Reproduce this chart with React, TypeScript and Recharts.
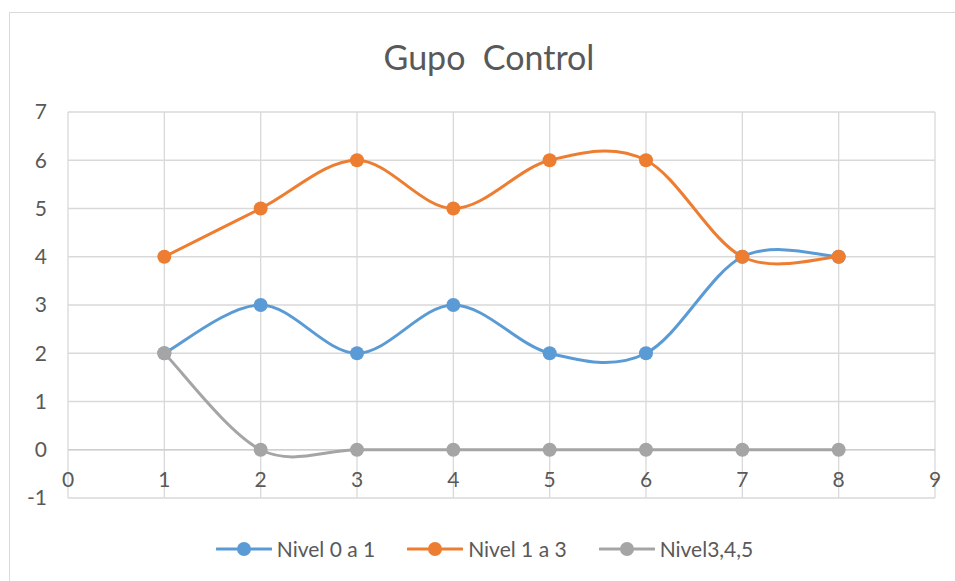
import {
  CartesianGrid,
  Legend,
  Line,
  LineChart,
  ReferenceLine,
  XAxis,
  YAxis,
} from "recharts";

const xValues = [1, 2, 3, 4, 5, 6, 7, 8];
const nivel0a1 = [2, 3, 2, 3, 2, 2, 4, 4];
const nivel1a3 = [4, 5, 6, 5, 6, 6, 4, 4];
const nivel345 = [2, 0, 0, 0, 0, 0, 0, 0];

const xTicks = [0, 1, 2, 3, 4, 5, 6, 7, 8, 9];
const yTicks = [-1, 0, 1, 2, 3, 4, 5, 6, 7];

const SERIES = [
  { key: "a", name: "Nivel 0 a 1", color: "#5B9BD5" },
  { key: "b", name: "Nivel 1 a 3", color: "#ED7D31" },
  { key: "c", name: "Nivel3,4,5", color: "#A5A5A5" },
];

const data = xValues.map((x, i) => ({
  x,
  a: nivel0a1[i],
  b: nivel1a3[i],
  c: nivel345[i],
}));

const FONT = "Lato, 'Open Sans', sans-serif";
const TEXT = "#595959";

// excel-like smoothing (catmull-rom through every point)
const excelSmooth = (context: any) => {
  let pts: number[][] = [];
  return {
    areaStart() {},
    areaEnd() {},
    lineStart() {
      pts = [];
    },
    point(x: number, y: number) {
      pts.push([+x, +y]);
    },
    lineEnd() {
      if (!pts.length) return;
      context.moveTo(pts[0][0], pts[0][1]);
      for (let i = 0; i < pts.length - 1; i++) {
        const p0 = pts[Math.max(i - 1, 0)];
        const p1 = pts[i];
        const p2 = pts[i + 1];
        const p3 = pts[Math.min(i + 2, pts.length - 1)];
        context.bezierCurveTo(
          p1[0] + (p2[0] - p0[0]) / 6,
          p1[1] + (p2[1] - p0[1]) / 6,
          p2[0] - (p3[0] - p1[0]) / 6,
          p2[1] - (p3[1] - p1[1]) / 6,
          p2[0],
          p2[1]
        );
      }
    },
  };
};

// x labels sit just under the y=0 line, like excel does
const XTick = (props: any) => {
  const { x, y, payload } = props;
  return (
    <text
      x={x}
      y={y - 18}
      dy="0.35em"
      textAnchor="middle"
      fill={TEXT}
      fontSize={21}
      fontFamily={FONT}
    >
      {payload.value}
    </text>
  );
};

const LegendContent = () => (
  <div
    style={{
      display: "flex",
      justifyContent: "center",
      gap: 32,
      fontFamily: FONT,
      fontSize: 21,
      color: TEXT,
      paddingLeft: 14,
    }}
  >
    {SERIES.map((s) => (
      <div key={s.key} style={{ display: "flex", alignItems: "center" }}>
        <svg width={56} height={16} style={{ marginRight: 5 }}>
          <line x1={1} y1={8} x2={55} y2={8} stroke={s.color} strokeWidth={3} strokeLinecap="round" />
          <circle cx={28} cy={8} r={7} fill={s.color} />
        </svg>
        <span>{s.name}</span>
      </div>
    ))}
  </div>
);

export default function App() {
  return (
    <div style={{ position: "absolute", left: 0, top: 0, width: 955, height: 581, background: "#fff" }}>
      <div
        style={{
          position: "absolute",
          left: 9,
          top: 12,
          width: 960,
          height: 600,
          borderLeft: "1px solid #d9d9d9",
          borderTop: "1px solid #d9d9d9",
        }}
      />
      <div
        style={{
          position: "absolute",
          left: 0,
          width: 978,
          top: 35,
          textAlign: "center",
          fontFamily: FONT,
          fontSize: 34,
          color: TEXT,
          lineHeight: "44px",
          whiteSpace: "pre",
        }}
      >
        {"Gupo  Control"}
      </div>
      <div style={{ position: "absolute", left: 0, top: 0 }}>
        <LineChart
          width={955}
          height={581}
          data={data}
          margin={{ top: 112, right: 20, left: 0, bottom: 63 }}
        >
          <CartesianGrid stroke="#d9d9d9" strokeWidth={1.3} />
          <XAxis
            dataKey="x"
            type="number"
            domain={[0, 9]}
            ticks={xTicks}
            axisLine={false}
            tickLine={false}
            tickSize={0}
            tickMargin={0}
            height={20}
            tick={<XTick />}
            interval={0}
          />
          <YAxis
            type="number"
            domain={[-1, 7]}
            ticks={yTicks}
            width={68}
            axisLine={false}
            tickLine={false}
            tickSize={0}
            tickMargin={21}
            interval={0}
            tick={{ fill: TEXT, fontSize: 21, fontFamily: FONT }}
          />
          <ReferenceLine y={0} stroke="#cfcfcf" strokeWidth={1.3} />
          {SERIES.map((s) => (
            <Line
              key={s.key}
              dataKey={s.key}
              name={s.name}
              type={excelSmooth as any}
              stroke={s.color}
              strokeWidth={3}
              dot={{ r: 7, fill: s.color, stroke: s.color, strokeWidth: 0 }}
              activeDot={false}
              isAnimationActive={false}
            />
          ))}
          <Legend
            verticalAlign="middle"
            align="center"
            layout="horizontal"
            content={<LegendContent />}
            wrapperStyle={{ top: 536, left: 0, width: 955 }}
          />
        </LineChart>
      </div>
    </div>
  );
}
